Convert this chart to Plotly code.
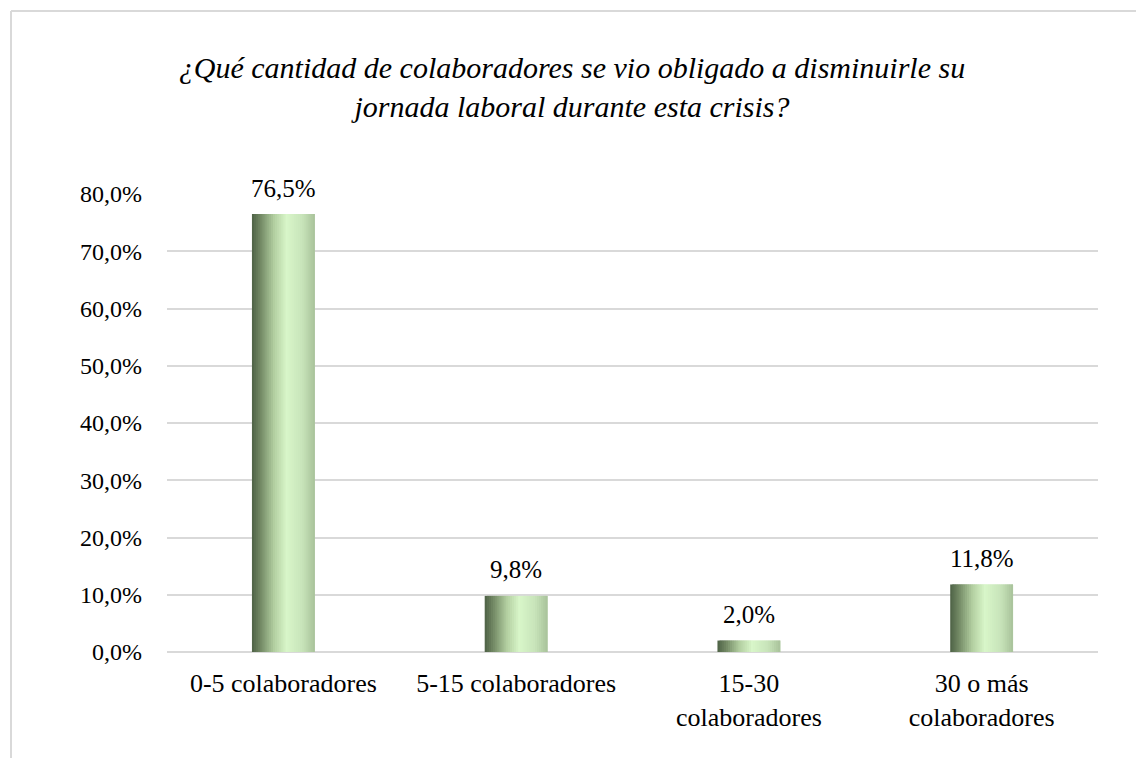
import plotly.graph_objects as go

categories = ["0-5 colaboradores", "5-15 colaboradores",
              "15-30<br>colaboradores", "30 o más<br>colaboradores"]
values = [0.765, 0.098, 0.020, 0.118]
y_ticks = [0, 0.1, 0.2, 0.3, 0.4, 0.5, 0.6, 0.7, 0.8]

title = ("¿Qué cantidad de colaboradores se vio obligado a disminuirle su<br>"
         "jornada laboral durante esta crisis?")

# page body has an 8px margin, so the figure is 16px smaller than the window
W, H = 1128, 750
ML, MR, MT, MB = 159, 38, 186, 106
FONT = "Liberation Serif"

# horizontal gradient of the bars (dark left, light middle, soft right)
stops = [(0.0, (78, 97, 69)), (0.15, (118, 141, 104)), (0.35, (178, 206, 160)),
         (0.55, (216, 246, 201)), (0.8, (200, 228, 186)), (1.0, (168, 194, 154))]


def grad(t):
    for (t0, c0), (t1, c1) in zip(stops, stops[1:]):
        if t <= t1:
            f = (t - t0) / (t1 - t0)
            return "rgb(%d,%d,%d)" % tuple(round(a + (b - a) * f) for a, b in zip(c0, c1))
    return "rgb(%d,%d,%d)" % stops[-1][1]


bar_w = 0.27
n = 30
fig = go.Figure()
for i in range(n):
    step = bar_w / n
    w = step * 2 if i < n - 1 else step
    fig.add_trace(go.Bar(
        x=categories, y=values,
        width=w, offset=-bar_w / 2 + i * step,
        marker=dict(color=grad((i + 0.5) / n), line=dict(width=0)),
        hoverinfo="skip", showlegend=False,
    ))

for c, v in zip(categories, values):
    fig.add_annotation(x=c, y=v, text=f"{v * 100:.1f}%".replace(".", ","),
                       showarrow=False, yshift=26, yanchor="middle",
                       font=dict(size=25, color="#000", family=FONT))

# chart border (left and top edges visible)
px_x = lambda p: (p - ML) / (W - ML - MR)
px_y = lambda p: (H - MB - p) / (H - MT - MB)
fig.add_shape(type="line", xref="paper", yref="paper",
              x0=px_x(3), x1=px_x(3), y0=px_y(3), y1=px_y(800),
              line=dict(color="#d9d9d9", width=2))
fig.add_shape(type="line", xref="paper", yref="paper",
              x0=px_x(3), x1=px_x(1200), y0=px_y(3), y1=px_y(3),
              line=dict(color="#d9d9d9", width=2))

fig.update_layout(
    width=W, height=H,
    margin=dict(l=ML, r=MR, t=MT, b=MB),
    barmode="overlay",
    separators=",.",
    paper_bgcolor="white", plot_bgcolor="white",
    font=dict(family=FONT, size=24, color="#000"),
    title=dict(text=title, x=0.5, xref="container", xanchor="center",
               y=1 - 70 / H, yref="container", yanchor="middle",
               font=dict(size=30, family=FONT, style="italic", color="#000")),
)
fig.update_xaxes(showgrid=False, showline=False, zeroline=False,
                 ticklabelstandoff=13, tickfont=dict(size=26, family=FONT))
fig.update_yaxes(range=[0, 0.8], tickvals=y_ticks, tickformat=".1%",
                 showgrid=True, gridcolor="#d9d9d9", gridwidth=2,
                 zeroline=True, zerolinecolor="#d9d9d9", zerolinewidth=2,
                 showline=False, ticklabelstandoff=24,
                 tickfont=dict(size=24, family=FONT))

fig.write_html("out.html")
